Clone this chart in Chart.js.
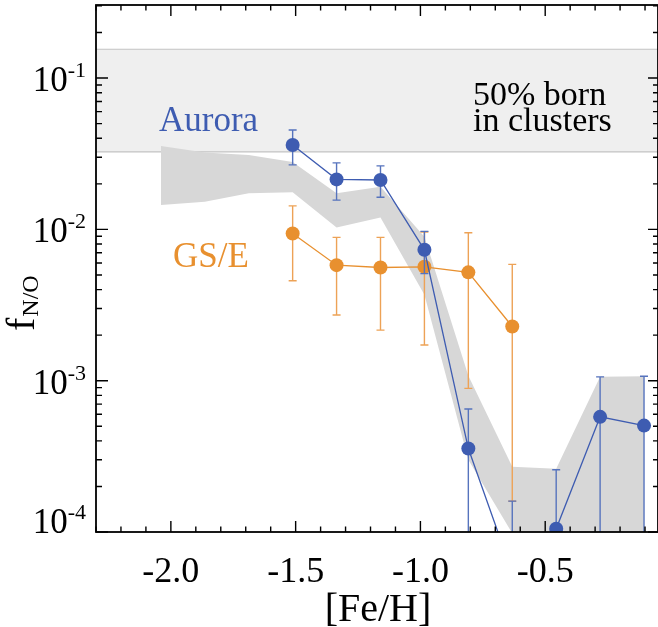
<!DOCTYPE html>
<html>
<head>
<meta charset="utf-8">
<script src="https://cdn.jsdelivr.net/npm/chart.js@4"></script>
<style>
  html, body { margin: 0; padding: 0; background: #fff; }
  #wrap { position: relative; width: 658px; height: 627px; }
</style>
</head>
<body>
<div id="wrap"><canvas id="myChart"></canvas></div>
<script>
// metallicity bins used by the model envelope
const modelFeh  = [-2.04, -1.864, -1.688, -1.512, -1.336, -1.16, -0.984, -0.808, -0.632, -0.456, -0.28, -0.104];
const modelHigh = [0.0356, 0.0322, 0.0310, 0.0279, 0.0173, 0.0191, 0.00893, 0.00108, 0.00027, 0.000262, 0.00106, 0.00107];
const modelLow  = [0.0145, 0.0152, 0.0173, 0.0176, 0.0103, 0.0120, 0.0037, 0.00030, 0.000098, 0.00005, 0.00005, 0.00005];

// Aurora
const auroraFeh = [-1.512, -1.336, -1.16, -0.984, -0.808, -0.632, -0.456, -0.28, -0.104];
const auroraF   = [0.0361, 0.0214, 0.0212, 0.00733, 0.000356, 0.000054, 0.000105, 0.000577, 0.000505];
const auroraHi  = [0.0454, 0.0275, 0.0263, 0.0097, 0.00065, 0.00016, 0.000258, 0.00106, 0.00107];
const auroraLo  = [0.0267, 0.0156, 0.0163, 0.0051, 0.00001, 0.00001, 0.00001, 0.00001, 0.00001];

// GS/E
const gseFeh = [-1.512, -1.336, -1.16, -0.984, -0.808, -0.632];
const gseF   = [0.0094, 0.0058, 0.0056, 0.00566, 0.0052, 0.00228];
const gseHi  = [0.0143, 0.00885, 0.00885, 0.0096, 0.0095, 0.00587];
const gseLo  = [0.00458, 0.00272, 0.00216, 0.00172, 0.00089, 0.00016];

// range where half the stars are born in clusters
const clusterRange = [0.0325, 0.155];

// axes
const xRange = [-2.3, -0.048];
const yRange = [1e-4, 0.304];
const xMajor = [-2.0, -1.5, -1.0, -0.5];
const xTickLabels = ['-2.0', '-1.5', '-1.0', '-0.5'];
const yMajor = [1e-4, 1e-3, 1e-2, 1e-1];
const yTickExp = ['-4', '-3', '-2', '-1'];

const BLUE = '#3e5cb1';
const ORANGE = '#e8902f';
const SERIF = '"Liberation Serif", "Times New Roman", serif';

const pts = (xs, ys) => xs.map((x, i) => ({ x: x, y: ys[i] }));

function drawErrors(chart, ds) {
  const ctx = chart.ctx, xs = chart.scales.x, ys = chart.scales.y, a = chart.chartArea;
  ctx.save();
  ctx.beginPath();
  ctx.rect(a.left, a.top, a.right - a.left, a.bottom - a.top);
  ctx.clip();
  ctx.strokeStyle = ds.errColor;
  ctx.lineWidth = 1.4;
  ds.data.forEach((p, i) => {
    const x = xs.getPixelForValue(p.x);
    const yh = ys.getPixelForValue(ds.errHi[i]);
    const yl = ys.getPixelForValue(ds.errLo[i]);
    ctx.beginPath();
    ctx.moveTo(x, yh); ctx.lineTo(x, yl);
    ctx.moveTo(x - 4, yh); ctx.lineTo(x + 4, yh);
    ctx.moveTo(x - 4, yl); ctx.lineTo(x + 4, yl);
    ctx.stroke();
  });
  ctx.restore();
}

const decor = {
  id: 'decor',
  beforeDatasetsDraw(chart) {
    const ctx = chart.ctx, ys = chart.scales.y, a = chart.chartArea;
    const yTop = ys.getPixelForValue(clusterRange[1]);
    const yBot = ys.getPixelForValue(clusterRange[0]);
    ctx.save();
    ctx.fillStyle = '#efefef';
    ctx.fillRect(a.left, yTop, a.right - a.left, yBot - yTop);
    ctx.strokeStyle = '#c4c4c4';
    ctx.lineWidth = 1.2;
    ctx.beginPath();
    ctx.moveTo(a.left, yTop); ctx.lineTo(a.right, yTop);
    ctx.moveTo(a.left, yBot); ctx.lineTo(a.right, yBot);
    ctx.stroke();
    ctx.restore();
  },
  beforeDatasetDraw(chart, args) {
    const ds = chart.data.datasets[args.index];
    if (ds.errHi) drawErrors(chart, ds);
  },
  afterDraw(chart) {
    const ctx = chart.ctx, xs = chart.scales.x, ys = chart.scales.y, a = chart.chartArea;
    ctx.save();

    // frame
    ctx.strokeStyle = '#000';
    ctx.lineWidth = 1.8;
    ctx.strokeRect(a.left, a.top, a.right - a.left, a.bottom - a.top);

    // x ticks, pointing inwards on bottom and top
    ctx.lineWidth = 1.4;
    ctx.beginPath();
    for (let k = -23; k <= -1; k++) {
      const v = k / 10;
      const x = xs.getPixelForValue(v);
      const major = k % 5 === 0;
      const len = major ? 11 : 5.5;
      ctx.moveTo(x, a.bottom); ctx.lineTo(x, a.bottom - len);
      ctx.moveTo(x, a.top); ctx.lineTo(x, a.top + len);
    }
    // y ticks on left and right
    for (let e = -4; e <= -1; e++) {
      for (let m = 1; m <= 9; m++) {
        const v = m * Math.pow(10, e);
        if (v > yRange[1]) break;
        const y = ys.getPixelForValue(v);
        const lenL = m === 1 ? 12 : 6;
        const lenR = m === 1 ? 10 : 5;
        ctx.moveTo(a.left, y); ctx.lineTo(a.left + lenL, y);
        ctx.moveTo(a.right, y); ctx.lineTo(a.right - lenR, y);
      }
    }
    ctx.stroke();

    // tick labels
    ctx.fillStyle = '#000';
    ctx.font = '36px ' + SERIF;
    ctx.textAlign = 'center';
    ctx.textBaseline = 'alphabetic';
    xMajor.forEach((v, i) => {
      ctx.fillText(xTickLabels[i], xs.getPixelForValue(v), 582);
    });
    yMajor.forEach((v, i) => {
      const y = ys.getPixelForValue(v);
      const base = Math.min(y + 13, a.bottom + 1);
      ctx.textAlign = 'right';
      ctx.font = '22px ' + SERIF;
      const ew = ctx.measureText(yTickExp[i]).width;
      ctx.fillText(yTickExp[i], 86, base - 14);
      ctx.font = '35px ' + SERIF;
      ctx.fillText('10', 86 - ew, base);
    });

    // axis titles
    ctx.textAlign = 'center';
    ctx.font = '40px ' + SERIF;
    ctx.fillText('[Fe/H]', 378, 621);

    ctx.save();
    ctx.translate(34, 331);
    ctx.rotate(-Math.PI / 2);
    ctx.textAlign = 'left';
    ctx.font = '40px ' + SERIF;
    ctx.fillText('f', 0, 0);
    const fw = ctx.measureText('f').width;
    ctx.font = '24px ' + SERIF;
    ctx.fillText('N/O', fw + 1, 4);
    ctx.restore();

    // annotations
    ctx.textAlign = 'left';
    ctx.font = '35px ' + SERIF;
    ctx.fillStyle = BLUE;
    ctx.fillText('Aurora', 159, 131);
    ctx.fillStyle = ORANGE;
    ctx.fillText('GS/E', 173, 267);
    ctx.fillStyle = '#000';
    ctx.font = '34px ' + SERIF;
    ctx.fillText('50% born', 473, 105);
    ctx.fillText('in clusters', 473, 131);

    ctx.restore();
  }
};

const ctx = document.getElementById('myChart');

new Chart(ctx, {
  type: 'scatter',
  data: {
    datasets: [
      {
        label: 'Aurora',
        data: pts(auroraFeh, auroraF),
        errHi: auroraHi, errLo: auroraLo, errColor: '#5673bd',
        showLine: true,
        borderColor: BLUE,
        borderWidth: 1.3,
        pointRadius: 7,
        pointBackgroundColor: BLUE,
        pointBorderWidth: 0,
        order: 1
      },
      {
        label: 'GS/E',
        data: pts(gseFeh, gseF),
        errHi: gseHi, errLo: gseLo, errColor: '#eda256',
        showLine: true,
        borderColor: ORANGE,
        borderWidth: 1.3,
        pointRadius: 7,
        pointBackgroundColor: ORANGE,
        pointBorderWidth: 0,
        order: 2
      },
      {
        label: 'model high',
        data: pts(modelFeh, modelHigh),
        showLine: true,
        borderWidth: 0,
        borderColor: 'rgba(0,0,0,0)',
        pointRadius: 0,
        fill: false,
        order: 10
      },
      {
        label: 'model low',
        data: pts(modelFeh, modelLow),
        showLine: true,
        borderWidth: 0,
        borderColor: 'rgba(0,0,0,0)',
        backgroundColor: '#d7d7d7',
        pointRadius: 0,
        fill: '-1',
        order: 9
      }
    ]
  },
  options: {
    responsive: true,
    maintainAspectRatio: false,
    animation: false,
    layout: { autoPadding: false, padding: { left: 96, top: 5, right: -1, bottom: 95 } },
    plugins: { legend: { display: false }, tooltip: { enabled: false } },
    scales: {
      x: { type: 'linear', min: xRange[0], max: xRange[1], display: false },
      y: { type: 'logarithmic', min: yRange[0], max: yRange[1], display: false }
    }
  },
  plugins: [decor]
});
</script>
</body>
</html>
